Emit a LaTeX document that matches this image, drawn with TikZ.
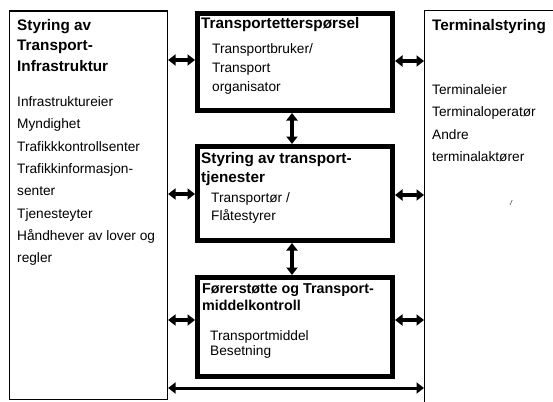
\documentclass[tikz,border=0pt]{standalone}
\usepackage{fontspec}
\setmainfont{Liberation Sans}
\usetikzlibrary{arrows.meta}
\tikzset{
  thinbox/.style={draw, line width=1.4pt, rectangle, inner sep=0pt, anchor=north west},
  thickbox/.style={draw, line width=5pt, rectangle, inner sep=0pt, anchor=north west},
  link/.style={line width=3.5pt, {Triangle[length=7.5pt,width=11pt]}-{Triangle[length=7.5pt,width=11pt]}},
  hd/.style={font=\fontsize{15.3}{18}\selectfont\bfseries, anchor=base west, inner sep=0pt},
  hdsmall/.style={font=\fontsize{14.3}{17}\selectfont\bfseries, anchor=base west, inner sep=0pt},
  bd/.style={font=\fontsize{13.7}{16}\selectfont, anchor=base west, inner sep=0pt}
}
\begin{document}
\begin{tikzpicture}[x=1pt,y=-1pt]
\useasboundingbox (0,0) rectangle (553,401);
\clip (0,0) rectangle (553,401);
\fill[white] (0,0) rectangle (553,401);
% boxes
\node[thinbox, minimum width=157.7pt, minimum height=388.5pt] (L) at (9,10.5) {};
\node[thinbox, minimum width=160pt, minimum height=420pt] (R) at (424,10) {};
\node[thickbox, minimum width=195pt, minimum height=97pt] (A) at (195,11) {};
\node[thickbox, minimum width=195pt, minimum height=94pt] (B) at (195,144) {};
\node[thickbox, minimum width=195pt, minimum height=99pt] (C) at (195,275) {};
% left box text
\node[hd] (l1) at (17,30.7) {Styring av};
\node[hd] (l2) at (17,50.9) {Transport-};
\node[hd] (l3) at (17,71.7) {Infrastruktur};
\node[bd] (l4) at (17,106.5) {Infrastruktureier};
\node[bd] (l5) at (17,128.8) {Myndighet};
\node[bd] (l6) at (17,151.1) {Trafikkkontrollsenter};
\node[bd] (l7) at (17,173.4) {Trafikkinformasjon-};
\node[bd] (l8) at (17,195.7) {senter};
\node[bd] (l9) at (17,218.0) {Tjenesteyter};
\node[bd] (l10) at (17,240.3) {Håndhever av lover og};
\node[bd] (l11) at (17,262.6) {regler};
% box A text
\node[hd] (a1) at (201,29) {Transportetterspørsel};
\node[bd] (a2) at (212,54) {Transportbruker/};
\node[bd] (a3) at (212,73) {Transport};
\node[bd] (a4) at (212,92) {organisator};
% box B text
\node[hd] (b1) at (201,163) {Styring av transport-};
\node[hd] (b2) at (201,182) {tjenester};
\node[bd] (b3) at (211,202) {Transportør /};
\node[bd] (b4) at (211,220) {Flåtestyrer};
% box C text
\node[hdsmall] (c1) at (202,293) {Førerstøtte og Transport-};
\node[hdsmall] (c2) at (202,310) {middelkontroll};
\node[bd] (c3) at (210,340) {Transportmiddel};
\node[bd] (c4) at (210,355.5) {Besetning};
% right box text
\node[hd] (r1) at (432,31) {Terminalstyring};
\node[bd] (r2) at (432,94.3) {Terminaleier};
\node[bd] (r3) at (432,116.7) {Terminaloperatør};
\node[bd] (r4) at (432,139) {Andre};
\node[bd] (r5) at (432,161.3) {terminalaktører};
\node[font=\fontsize{7}{8}\selectfont\itshape, inner sep=0pt] (r6) at (511,203) {/};
% connectors
\draw[link] (L.east |- 0,60) -- (A.west |- 0,60);
\draw[link] (L.east |- 0,194) -- (B.west |- 0,194);
\draw[link] (L.east |- 0,320) -- (C.west |- 0,320);
\draw[link] (A.east |- 0,61) -- (R.west |- 0,61);
\draw[link] (B.east |- 0,195) -- (R.west |- 0,195);
\draw[link] (C.east |- 0,320) -- (R.west |- 0,320);
\draw[link] (A.south -| 292,0) -- (B.north -| 292,0);
\draw[link] (B.south -| 292,0) -- (C.north -| 292,0);
\draw[link, line width=3pt] (L.east |- 0,388) -- (R.west |- 0,388);
\end{tikzpicture}
\end{document}
